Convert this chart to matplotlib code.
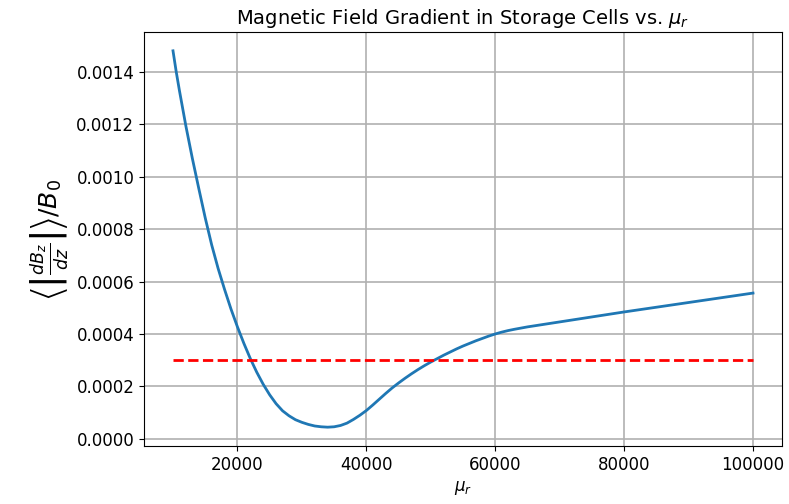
import matplotlib
matplotlib.use("Agg")
import matplotlib.pyplot as plt

mu_r = [10000, 10500, 11000, 12000, 13000, 14000, 15000, 16000, 17000, 18000, 19000,
        20000, 21000, 22000, 23000, 24000, 25000, 26000, 27000, 28000, 29000,
        30000, 31000, 32000, 33000, 34000, 35000, 36000, 37000, 38000, 39000,
        40000, 41000, 42000, 43000, 44000, 45000, 46000, 47000, 48000, 49000,
        50000, 51000, 52000, 53000, 54000, 55000, 56000, 57000, 58000, 59000,
        60000, 61000, 62000, 63000, 65000, 70000, 75000, 80000, 85000, 90000, 95000, 100000]
gradient = [0.001480, 0.001400, 0.001328, 0.001193, 0.001070, 0.000955, 0.000843, 0.000740, 0.000650, 0.000570, 0.000495,
            0.000427, 0.000364, 0.000306, 0.000254, 0.000208, 0.000168, 0.000134, 0.000107, 0.000088, 0.000073,
            0.000063, 0.000055, 0.000049, 0.000046, 0.0000445, 0.000046, 0.000051, 0.000060, 0.000074, 0.000090,
            0.000108, 0.000129, 0.000151, 0.000173, 0.000194, 0.000213, 0.000231, 0.000248, 0.000264, 0.000279,
            0.000293, 0.000306, 0.000319, 0.000331, 0.000343, 0.000354, 0.000364, 0.000374, 0.000383, 0.000392,
            0.000400, 0.000407, 0.000413, 0.000418, 0.000427, 0.000446, 0.000465, 0.000484, 0.000502, 0.000520, 0.000538, 0.000556]
threshold = 0.0003

fig = plt.figure(figsize=(7.89, 5.04), dpi=100)
ax = fig.add_axes([144/789, (504-446)/504, (782-144)/789, (446-32)/504])
ax.plot(mu_r, gradient, color='#1f77b4', linewidth=2)
ax.plot([mu_r[0], mu_r[-1]], [threshold, threshold], 'r--', linewidth=2)
ax.grid(True, color='#b0b0b0', linewidth=1.2)
ax.set_xticks([20000, 40000, 60000, 80000, 100000])
ax.set_yticks([0, 0.0002, 0.0004, 0.0006, 0.0008, 0.0010, 0.0012, 0.0014])
ax.set_yticklabels(['0.0000', '0.0002', '0.0004', '0.0006', '0.0008', '0.0010', '0.0012', '0.0014'])
ax.tick_params(labelsize=12)
ax.set_title(r'Magnetic Field Gradient in Storage Cells vs. $\mu_r$', fontsize=14)
ax.set_xlabel(r'$\mu_r$', fontsize=12)
ax.set_ylabel(r'$\left\langle \left|\frac{dB_z}{dz}\right| \right\rangle / B_0$', fontsize=18)
fig.savefig('out.png', dpi=100)
